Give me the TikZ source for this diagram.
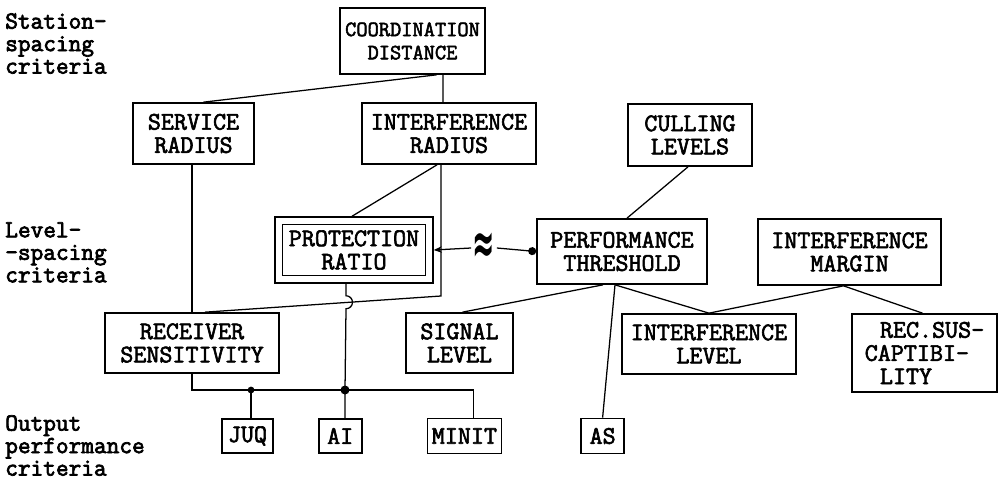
\documentclass[tikz,border=0pt]{standalone}
\usepackage{fontspec}
\newfontfamily\typefont{Latin Modern Mono}[FakeBold=2.4]
\newfontfamily\labelfont{Latin Modern Mono}[FakeBold=3]
\newfontfamily\symbolfont{DejaVu Sans}
\usetikzlibrary{arrows.meta,positioning,calc}
\tikzset{
  critbox/.style={draw, line width=1.2pt, inner sep=1pt, align=center,
    font=\typefont\fontsize{18}{16.5}\selectfont},
  boxsize/.style 2 args={minimum width=#1*0.025cm, minimum height=#2*0.025cm},
  smallbox/.style={critbox, font=\typefont\fontsize{15.5}{16.5}\selectfont},
  keybox/.style={critbox, double, double distance=4.2pt, outer sep=3.2pt},
  rowlabel/.style={anchor=north west, inner sep=0pt, align=left,
    font=\labelfont\fontsize{17.5}{16}\selectfont},
  approxsign/.style={inner sep=1pt, font=\symbolfont\bfseries\fontsize{20}{20}\selectfont},
  link/.style={line width=0.9pt},
  tiein/.style={link, -{Stealth[length=2mm, width=1.6mm]}},
  tieout/.style={link, -{Circle[length=2mm]}}
}
\begin{document}
\begin{tikzpicture}[x=0.025cm, y=0.025cm]
  \useasboundingbox (0,0) rectangle (1000,-479);
  % row labels
  \node[rowlabel] (station) at (5,-13) {Station-\\spacing\\criteria};
  \node[rowlabel] (levelsp) at (5,-222) {Level-\\-spacing\\criteria};
  \node[rowlabel] (output) at (5,-415) {Output\\performance\\criteria};
  % station-spacing
  \node[smallbox, boxsize={145}{66}] (coord) at (412.5,-41) {COORDINATION\\DISTANCE};
  \node[critbox, boxsize={121}{61}] (service) at (193.5,-133.5) {SERVICE\\RADIUS};
  \node[critbox, boxsize={174}{61}] (intrad) at (449,-133.5) {INTERFERENCE\\RADIUS};
  \node[critbox, boxsize={124}{62}] (culling) at (690,-135) {CULLING\\LEVELS};
  % level-spacing
  \node[keybox, boxsize={150.5}{58.5}] (prot) at (354,-250) {PROTECTION\\RATIO};
  \node[critbox, boxsize={170}{65}] (perf) at (622,-251.5) {PERFORMANCE\\THRESHOLD};
  \node[critbox, boxsize={183}{66}] (imargin) at (849.5,-252) {INTERFERENCE\\MARGIN};
  \node[approxsign] (apx) at (484,-248) {\scalebox{0.95}[2.1]{≈}};
  \node[critbox, boxsize={174}{60}] (recsens) at (192,-343) {RECEIVER\\SENSITIVITY};
  \node[critbox, boxsize={107}{60}] (siglev) at (459.5,-343) {SIGNAL\\LEVEL};
  \node[critbox, boxsize={174}{60}] (intlev) at (709,-344) {INTERFERENCE\\LEVEL};
  \node[critbox, boxsize={145}{78}, align=left] (recsus) at (924.5,-353)
    {\hspace*{0.6em}REC.SUS-\\CAPTIBI-\\\hspace*{0.6em}LITY};
  % output performance
  \node[critbox, boxsize={51}{34}] (juq) at (247.5,-436) {JUQ};
  \node[critbox, boxsize={43}{34}, right=1.1cm of juq] (ai) {AI};
  \node[critbox, boxsize={74}{35}, right=1.6cm of ai] (minit) {MINIT};
  \node[critbox, boxsize={43}{35}, right=1.95cm of minit] (as) {AS};
  \coordinate (bend) at (441,-296);
  \coordinate (jjuq) at (251,-390);
  \coordinate (jai) at (345,-390);
  % links
  \draw[link] ($(coord.south)+(24,0)$) -- ($(service.north)+(10,0)$);
  \draw[link] ($(coord.south)+(30.5,0)$) -- ($(intrad.north)+(-6,0)$);
  \draw[link] (service.south -| recsens.north) -- (recsens.north);
  \draw[link] ($(intrad.south)+(-12,0)$) -- ($(prot.north)+(-2,0)$);
  \draw[link] (intrad.south -| bend) -- (bend) -- ($(recsens.north)+(13,0)$);
  \draw[tiein] (apx.west) -- (prot.east);
  \draw[tieout] (apx.east) -- (perf.west);
  \draw[link] ($(culling.south)+(-2,0)$) -- ($(perf.north)+(5,0)$);
  \draw[link] ($(perf.south)+(-19,0)$) -- ($(siglev.north)+(3,0)$);
  \draw[link] ($(perf.south)+(-7,0)$) -- (as.north);
  \draw[link] ($(perf.south)+(-7,0)$) -- (intlev.north);
  \draw[link] ($(imargin.south)+(-6,0)$) -- (intlev.north);
  \draw[link] ($(imargin.south)+(-6,0)$) -- ($(recsus.north)+(-2,0)$);
  % output bus
  \draw[link] (recsens.south) |- (jai) -| ($(minit.north)+(9,0)$);
  \draw[link] (jjuq) -- (jjuq |- juq.north);
  \draw[link] ($(prot.south)+(-8,0)$) -- ++(0,-12)
    arc[start angle=90, end angle=-90, radius=6.5] -- (jai) -- (jai |- ai.north);
  \fill (jjuq) circle[radius=2.4pt];
  \fill (jai) circle[radius=3.2pt];
\end{tikzpicture}
\end{document}
